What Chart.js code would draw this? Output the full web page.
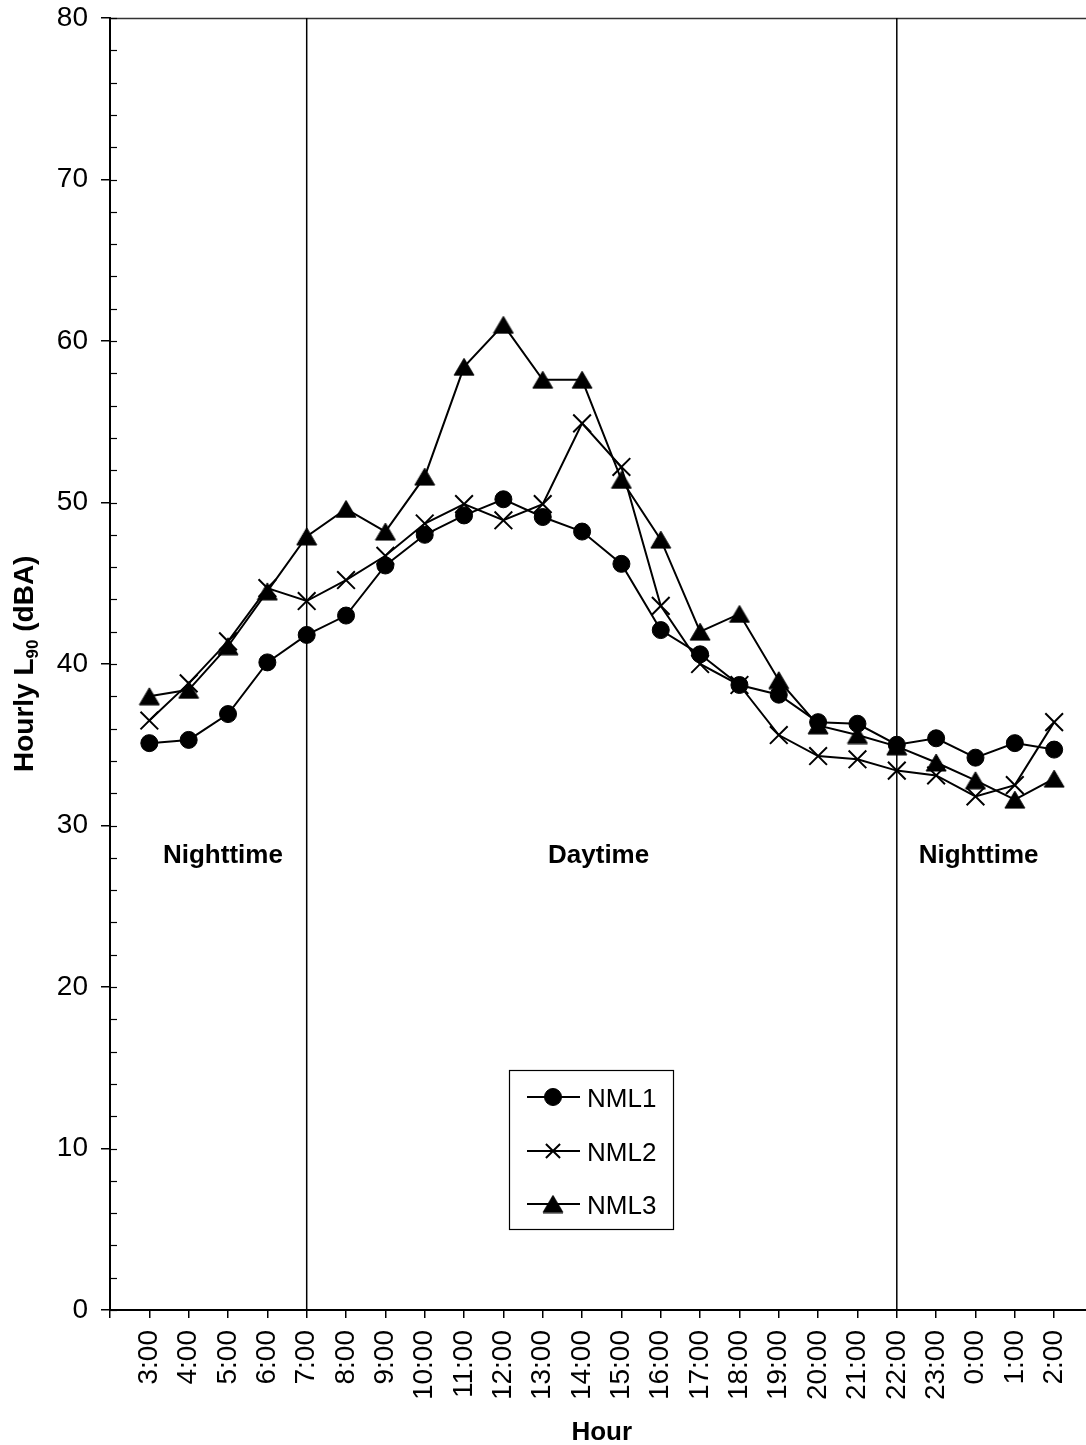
<!DOCTYPE html>
<html><head><meta charset="utf-8">
<script src="https://cdn.jsdelivr.net/npm/chart.js@4/dist/chart.umd.min.js"></script>
<style>html,body{margin:0;padding:0;background:#fff;overflow:hidden;width:1086px;height:1445px}canvas{display:block}</style>
</head><body>
<canvas id="c" width="1108" height="1445"></canvas>
<script>
const categories = ['3:00','4:00','5:00','6:00','7:00','8:00','9:00','10:00','11:00','12:00','13:00','14:00','15:00','16:00','17:00','18:00','19:00','20:00','21:00','22:00','23:00','0:00','1:00','2:00'];
const nml1 = [35.1, 35.3, 36.9, 40.1, 41.8, 43.0, 46.1, 48.0, 49.2, 50.2, 49.1, 48.2, 46.2, 42.1, 40.6, 38.7, 38.1, 36.4, 36.3, 35.0, 35.4, 34.2, 35.1, 34.7];
const nml2 = [36.5, 38.8, 41.4, 44.7, 43.9, 45.2, 46.7, 48.7, 49.9, 48.9, 49.9, 54.9, 52.2, 43.6, 40.0, 38.7, 35.6, 34.3, 34.1, 33.4, 33.1, 31.8, 32.5, 36.4];
const nml3 = [38.0, 38.4, 41.1, 44.5, 47.9, 49.6, 48.2, 51.6, 58.4, 61.0, 57.6, 57.6, 51.4, 47.7, 42.0, 43.1, 39.0, 36.2, 35.6, 34.9, 33.9, 32.8, 31.6, 32.9];
const seriesNames = ['NML1', 'NML2', 'NML3'];
const yTicks = [0, 10, 20, 30, 40, 50, 60, 70, 80];
const periodLabels = ['Nighttime', 'Daytime', 'Nighttime'];
const boundaryHours = ['7:00', '22:00'];
const xTitle = 'Hour';
const yTitleParts = ['Hourly L', '90', ' (dBA)'];

const FONT = '"Liberation Sans", Arial, Helvetica, sans-serif';

function makeTriangle(w, h) {
  const c = document.createElement('canvas');
  c.width = w + 2; c.height = h + 2;
  const g = c.getContext('2d');
  g.beginPath();
  g.moveTo(c.width / 2, 1);
  g.lineTo(w + 1, h + 1);
  g.lineTo(1, h + 1);
  g.closePath();
  g.fillStyle = '#000'; g.fill();
  g.strokeStyle = '#000'; g.lineWidth = 1; g.stroke();
  return c;
}
const tri = makeTriangle(20, 17);

const pts = arr => arr.map((v, i) => ({ x: i, y: v }));
const styles = [
  { pointStyle: 'circle', pointRadius: 8.5, pointBorderWidth: 1 },
  { pointStyle: 'crossRot', pointRadius: 12.5, pointBorderWidth: 2 },
  { pointStyle: tri, pointRadius: 10, pointBorderWidth: 1 }
];
const seriesData = [nml1, nml2, nml3];

const decor = {
  id: 'decor',
  beforeDatasetsDraw(chart) {
    const { ctx, chartArea: a, scales: { x, y } } = chart;
    ctx.save();
    const line = (x1, y1, x2, y2) => { ctx.beginPath(); ctx.moveTo(x1, y1); ctx.lineTo(x2, y2); ctx.stroke(); };
    ctx.strokeStyle = '#333'; ctx.lineWidth = 1.5;
    line(a.left, a.top + 0.5, a.right + 20, a.top + 0.5);
    ctx.strokeStyle = '#000'; ctx.lineWidth = 1.2;
    for (let v = 0; v <= 80; v += 2) {
      const py = Math.round(y.getPixelForValue(v)) + 0.5;
      line(a.left, py, a.left + 7, py);
    }
    ctx.strokeStyle = '#000'; ctx.lineWidth = 1.5;
    boundaryHours.forEach(h => {
      const px = x.getPixelForValue(categories.indexOf(h));
      line(px, a.top, px, a.bottom);
    });
    const pos = [1.87, 11.42, 21.08];
    ctx.fillStyle = '#000';
    ctx.font = 'bold 26px ' + FONT;
    ctx.textAlign = 'center'; ctx.textBaseline = 'alphabetic';
    periodLabels.forEach((t, i) => {
      ctx.fillText(t, x.getPixelForValue(pos[i]), y.getPixelForValue(27.68));
    });
    ctx.restore();
  },
  afterDraw(chart) {
    const { ctx, chartArea: a } = chart;
    ctx.save();
    const L = { left: 509.5, top: 1070.5, w: 164, h: 159 };
    ctx.fillStyle = '#fff';
    ctx.fillRect(L.left, L.top, L.w, L.h);
    ctx.strokeStyle = '#000'; ctx.lineWidth = 1.2;
    ctx.strokeRect(L.left, L.top, L.w, L.h);
    const rows = [1097, 1151, 1204];
    chart.data.datasets.forEach((ds, i) => {
      const yy = rows[i];
      ctx.strokeStyle = '#000'; ctx.lineWidth = 2;
      ctx.beginPath(); ctx.moveTo(527, yy); ctx.lineTo(580, yy); ctx.stroke();
      ctx.fillStyle = '#000';
      ctx.lineWidth = ds.pointBorderWidth;
      Chart.helpers.drawPoint(ctx, { pointStyle: ds.pointStyle, radius: i === 1 ? 10 : (i === 0 ? 8.5 : 10), rotation: 0, borderWidth: ds.pointBorderWidth }, 553, yy);
      ctx.font = '26px ' + FONT;
      ctx.textAlign = 'left'; ctx.textBaseline = 'alphabetic';
      ctx.fillText(ds.label, 587, yy + 9.5);
    });
    ctx.fillStyle = '#000';
    ctx.font = 'bold 26px ' + FONT;
    ctx.textAlign = 'center'; ctx.textBaseline = 'alphabetic';
    ctx.fillText(xTitle, (a.left + a.right) / 2, 1439.5);
    ctx.translate(33, 772);
    ctx.rotate(-Math.PI / 2);
    ctx.textAlign = 'left';
    let cx = 0;
    ctx.font = 'bold 28px ' + FONT;
    ctx.fillText(yTitleParts[0], cx, 0); cx += ctx.measureText(yTitleParts[0]).width;
    ctx.font = 'bold 17px ' + FONT;
    ctx.fillText(yTitleParts[1], cx, 5); cx += ctx.measureText(yTitleParts[1]).width;
    ctx.font = 'bold 28px ' + FONT;
    ctx.fillText(yTitleParts[2], cx, 0);
    ctx.restore();
  }
};

new Chart(document.getElementById('c').getContext('2d'), {
  type: 'line',
  data: {
    datasets: seriesData.map((d, i) => Object.assign({
      label: seriesNames[i],
      data: pts(d),
      borderColor: '#000',
      borderWidth: 2,
      backgroundColor: '#000',
      pointBackgroundColor: '#000',
      pointBorderColor: '#000',
      tension: 0,
      fill: false
    }, styles[i]))
  },
  options: {
    responsive: false,
    animation: false,
    devicePixelRatio: 1,
    layout: { padding: { left: 0, right: 7.5, top: 18, bottom: 0 } },
    plugins: { legend: { display: false }, tooltip: { enabled: false } },
    scales: {
      x: {
        type: 'linear', min: -1, max: 24,
        afterBuildTicks: s => { const t = []; for (let i = -1; i <= 24; i++) t.push({ value: i }); s.ticks = t; },
        ticks: {
          autoSkip: false, minRotation: 90, maxRotation: 90, padding: 12,
          font: { family: FONT, size: 28 }, color: '#000',
          callback: v => (categories[v] !== undefined ? categories[v] : '')
        },
        grid: { drawOnChartArea: false, drawTicks: true, tickLength: 8, color: '#000', lineWidth: 1.5 },
        border: { display: true, color: '#000', width: 2 },
        afterFit: s => { s.height = 135; s.paddingLeft = 0; s.paddingRight = 0; }
      },
      y: {
        min: 0, max: 80,
        afterBuildTicks: s => { s.ticks = yTicks.map(v => ({ value: v })); },
        ticks: { padding: 13, font: { family: FONT, size: 28 }, color: '#000' },
        grid: { drawOnChartArea: false, drawTicks: true, tickLength: 9, color: '#000', lineWidth: 1.5 },
        border: { display: true, color: '#000', width: 2 },
        afterFit: s => { s.width = 110; s.paddingTop = 0; s.paddingBottom = 0; }
      }
    }
  },
  plugins: [decor]
});
</script>
</body></html>
